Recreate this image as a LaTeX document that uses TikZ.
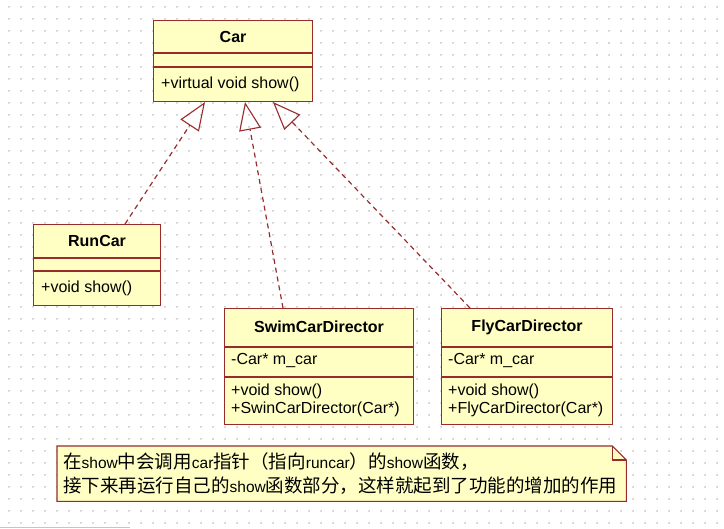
\documentclass[tikz,border=0pt]{standalone}
\usepackage{fontspec}
\setmainfont{Liberation Sans}
\newfontfamily\cjk{Noto Sans CJK SC}
\usetikzlibrary{arrows.meta,calc}
\definecolor{umlfill}{HTML}{FFFFC4}
\definecolor{umlline}{HTML}{982C2C}
\definecolor{griddot}{HTML}{C4C4C4}
\newcommand{\lat}[1]{{\rmfamily\fontsize{15.5}{24}\selectfont #1}}
\begin{document}
\begin{tikzpicture}[x=1pt,y=-1pt,
  box/.style={draw=umlline, fill=umlfill, line width=1.1pt, inner sep=0pt, anchor=north west},
  sep/.style={draw=umlline, line width=1.1pt},
  title/.style={font=\fontsize{16}{18}\selectfont\bfseries, text=black, inner sep=0pt},
  member/.style={font=\fontsize{16}{18}\selectfont, text=black, anchor=west, inner sep=0pt},
  realize/.style={draw=umlline, line width=1.2pt, dash pattern=on 5pt off 4pt,
    -{Triangle[open, length=28pt, width=22pt, line width=1.1pt]}},
]
\useasboundingbox (0,0) rectangle (724,529);
\fill[white] (0,0) rectangle (724,529);
% grid dots
\foreach \i in {0,...,59}{
  \foreach \j in {0,...,43}{
    \fill[griddot] (9+12*\i,7+12*\j) circle (1);
  }
}
\draw[gray!45, line width=1pt] (0,528) -- (130,528);

% Car
\node[box, minimum width=159pt, minimum height=81pt] (car) at (153,20) {};
\draw[sep] ($(car.north west)+(0,33)$) -- ($(car.north east)+(0,33)$);
\draw[sep] ($(car.north west)+(0,47)$) -- ($(car.north east)+(0,47)$);
\node[title] (cartitle) at ($(car.north)+(0,16.5)$) {Car};
\node[member] (carm1) at ($(car.north west)+(8,64)$) {+virtual void show()};

% RunCar
\node[box, minimum width=127pt, minimum height=81pt] (runcar) at (33,224) {};
\draw[sep] ($(runcar.north west)+(0,34)$) -- ($(runcar.north east)+(0,34)$);
\draw[sep] ($(runcar.north west)+(0,47)$) -- ($(runcar.north east)+(0,47)$);
\node[title] (runcartitle) at ($(runcar.north)+(0,17)$) {RunCar};
\node[member] (runcarm1) at ($(runcar.north west)+(8,64)$) {+void show()};

% SwimCarDirector
\node[box, minimum width=189pt, minimum height=116pt] (swim) at (224,308) {};
\draw[sep] ($(swim.north west)+(0,39)$) -- ($(swim.north east)+(0,39)$);
\draw[sep] ($(swim.north west)+(0,69)$) -- ($(swim.north east)+(0,69)$);
\node[title] (swimtitle) at ($(swim.north)+(0,19)$) {SwimCarDirector};
\node[member] (swima1) at ($(swim.north west)+(7,53)$) {-Car* m\_car};
\node[member] (swimm1) at ($(swim.north west)+(7,83)$) {+void show()};
\node[member] (swimm2) at ($(swim.north west)+(7,101)$) {+SwinCarDirector(Car*)};

% FlyCarDirector
\node[box, minimum width=171pt, minimum height=116pt] (fly) at (441,308) {};
\draw[sep] ($(fly.north west)+(0,39)$) -- ($(fly.north east)+(0,39)$);
\draw[sep] ($(fly.north west)+(0,69)$) -- ($(fly.north east)+(0,69)$);
\node[title] (flytitle) at ($(fly.north)+(0,19)$) {FlyCarDirector};
\node[member] (flya1) at ($(fly.north west)+(7,53)$) {-Car* m\_car};
\node[member] (flym1) at ($(fly.north west)+(7,83)$) {+void show()};
\node[member] (flym2) at ($(fly.north west)+(7,101)$) {+FlyCarDirector(Car*)};

% realizations
\coordinate (r1) at ($(runcar.north west)+(92,0)$);
\coordinate (c1) at ($(car.south west)+(52,0)$);
\coordinate (s1) at ($(swim.north west)+(59,0)$);
\coordinate (c2) at ($(car.south west)+(92,0)$);
\coordinate (f1) at ($(fly.north west)+(29,0)$);
\coordinate (c3) at ($(car.south west)+(120,0)$);
\draw[realize] (r1) -- (c1);
\draw[realize] (s1) -- (c2);
\draw[realize] (f1) -- (c3);

% note
\node[inner sep=0pt, minimum width=569pt, minimum height=55pt, anchor=north west] (note) at (57,446) {};
\draw[umlline, fill=umlfill, line width=1.1pt]
  (note.north west) -- ($(note.north east)+(-14,0)$) -- ($(note.north east)+(0,14)$)
  -- (note.south east) -- (note.south west) -- cycle;
\draw[umlline, line width=1.1pt]
  ($(note.north east)+(-14,0)$) -- ($(note.north east)+(-14,14)$) -- ($(note.north east)+(0,14)$);
\node[anchor=west, inner sep=0pt, align=left, font=\cjk\fontsize{18.5}{24}\selectfont] (notetext)
  at ($(note.west)+(6,0)$)
  {在\lat{show}中会调用\lat{car}指针（指向\lat{runcar}）的\lat{show}函数，\\
   接下来再运行自己的\lat{show}函数部分，这样就起到了功能的增加的作用};
\end{tikzpicture}
\end{document}
